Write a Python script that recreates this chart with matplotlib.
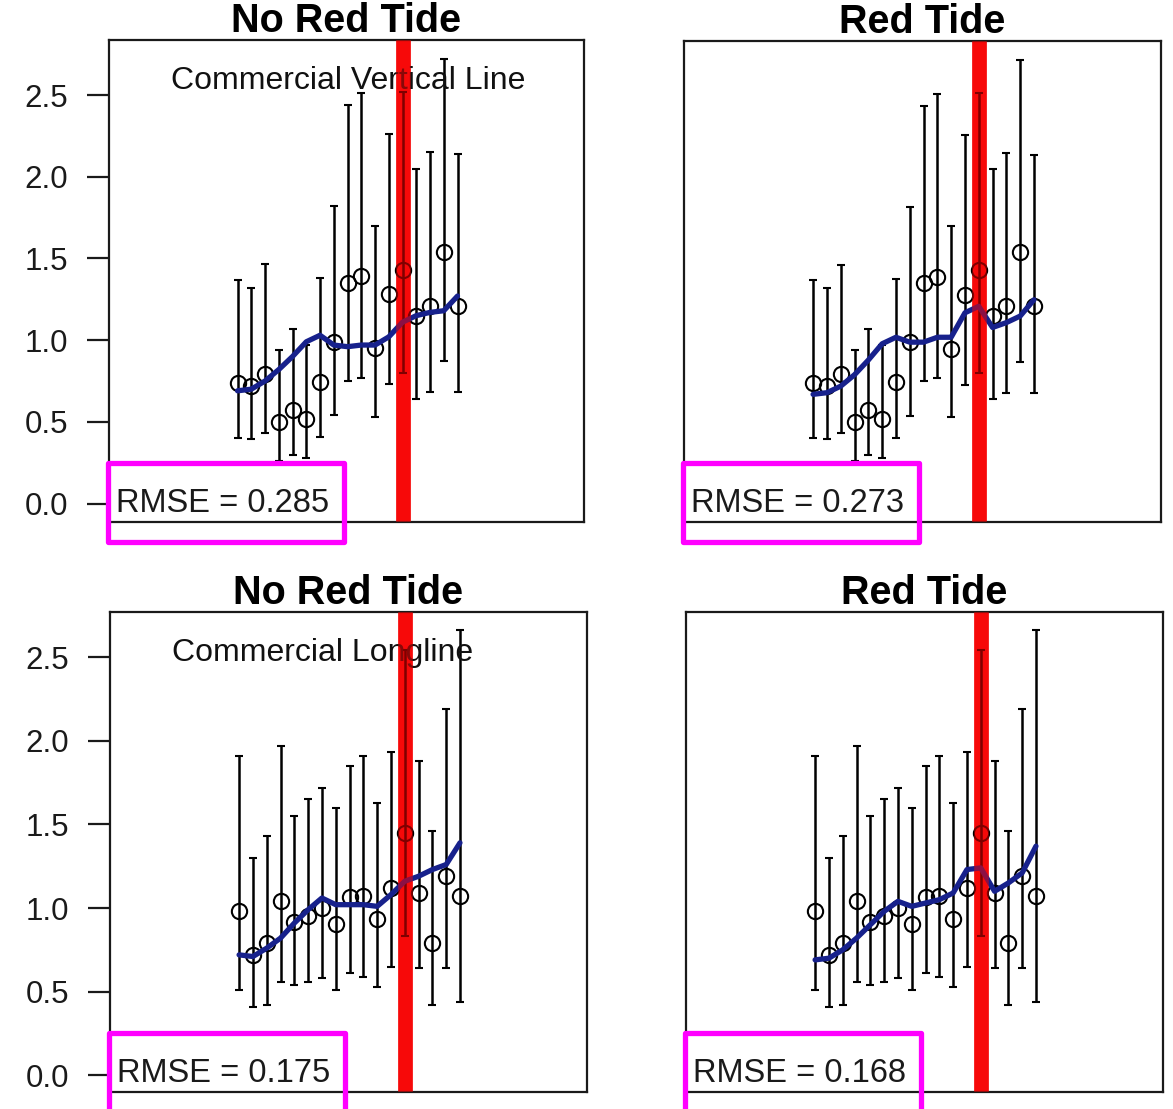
import numpy as np
import matplotlib
matplotlib.use("Agg")
import matplotlib.pyplot as plt
from matplotlib.patches import Rectangle

plt.rcParams['font.family'] = ['Liberation Sans', 'DejaVu Sans']

# ---------------- data ----------------
years = np.arange(1, 18)          # 17 time steps (no x labels shown)
red_tide_year = 13                # position of the red-tide event

titles = ["No Red Tide", "Red Tide", "No Red Tide", "Red Tide"]
gear_labels = ["Commercial Vertical Line", "Commercial Longline"]
rmse_values = [0.285, 0.273, 0.175, 0.168]
ytick_vals = [0.0, 0.5, 1.0, 1.5, 2.0, 2.5]

# Commercial Vertical Line: observed index with bounds
vl_obs = [0.74, 0.72, 0.795, 0.50, 0.574, 0.52, 0.744, 0.99, 1.35, 1.39, 0.95, 1.28, 1.43, 1.15, 1.21, 1.54, 1.21]
vl_hi  = [1.37, 1.32, 1.466, 0.94, 1.07, 0.97, 1.38, 1.82, 2.44, 2.51, 1.70, 2.26, 2.52, 2.05, 2.15, 2.72, 2.14]
vl_lo  = [0.40, 0.395, 0.43, 0.26, 0.30, 0.28, 0.405, 0.54, 0.75, 0.77, 0.53, 0.73, 0.80, 0.64, 0.68, 0.87, 0.68]
vl_fit_no = [0.69, 0.70, 0.75, 0.82, 0.90, 0.99, 1.03, 0.97, 0.96, 0.97, 0.97, 1.02, 1.11, 1.15, 1.17, 1.18, 1.27]
vl_fit_rt = [0.67, 0.68, 0.72, 0.79, 0.88, 0.98, 1.02, 0.99, 0.99, 1.02, 1.02, 1.17, 1.21, 1.08, 1.11, 1.15, 1.25]

# Commercial Longline
ll_obs = [0.985, 0.72, 0.79, 1.04, 0.915, 0.955, 1.00, 0.905, 1.066, 1.07, 0.935, 1.12, 1.45, 1.09, 0.79, 1.19, 1.07]
ll_hi  = [1.91, 1.30, 1.43, 1.97, 1.55, 1.65, 1.72, 1.60, 1.85, 1.91, 1.63, 1.93, 2.54, 1.88, 1.46, 2.19, 2.66]
ll_lo  = [0.51, 0.41, 0.42, 0.56, 0.54, 0.56, 0.58, 0.51, 0.61, 0.59, 0.53, 0.65, 0.83, 0.64, 0.42, 0.64, 0.44]
ll_fit_no = [0.72, 0.71, 0.76, 0.82, 0.91, 0.99, 1.06, 1.02, 1.02, 1.02, 1.01, 1.08, 1.16, 1.19, 1.23, 1.26, 1.39]
ll_fit_rt = [0.69, 0.70, 0.75, 0.82, 0.90, 0.98, 1.04, 1.01, 1.03, 1.05, 1.09, 1.23, 1.24, 1.10, 1.15, 1.21, 1.37]

panels = [
    (vl_obs, vl_lo, vl_hi, vl_fit_no),
    (vl_obs, vl_lo, vl_hi, vl_fit_rt),
    (ll_obs, ll_lo, ll_hi, ll_fit_no),
    (ll_obs, ll_lo, ll_hi, ll_fit_rt),
]

# ---------------- layout ----------------
W, H = 1173, 1109
fig = plt.figure(figsize=(W / 100, H / 100), dpi=100)

def px_axes(x0, y0, x1, y1):
    return [x0 / W, 1 - y1 / H, (x1 - x0) / W, (y1 - y0) / H]

rects = [px_axes(109, 40, 584, 522), px_axes(684, 41, 1161, 522),
         px_axes(110, 612, 587, 1092), px_axes(686, 612, 1163, 1092)]
ylims = [(-0.113, 2.837), (-0.113, 2.837), (-0.10, 2.77), (-0.10, 2.77)]

for i, (obs, lo, hi, fit) in enumerate(panels):
    ax = fig.add_axes(rects[i])
    obs = np.array(obs); lo = np.array(lo); hi = np.array(hi)
    yerr = np.vstack([obs - lo, hi - obs])
    ax.errorbar(years, obs, yerr=yerr, fmt='o', mfc='none', mec='black',
                ms=11, mew=1.5, ecolor='black', elinewidth=1.8,
                capsize=3, capthick=1.8, zorder=2)
    ax.plot(years, fit, color='#17218c', lw=3.8, zorder=3,
            solid_capstyle='round', solid_joinstyle='round')
    # red-tide marker: opaque band under, translucent band over
    ax.axvline(red_tide_year, color='#f01414', lw=10.5, zorder=1)
    ax.axvline(red_tide_year, color='#ff0000', lw=10.5, alpha=0.5, zorder=4)

    ax.set_xlim(-8.35, 26.2)
    ax.set_ylim(*ylims[i])
    ax.set_xticks([])
    for s in ax.spines.values():
        s.set_linewidth(1.6)
        s.set_color('#1a1a1a')
    if i % 2 == 0:
        ax.set_yticks(ytick_vals)
        ax.set_yticklabels([f"{v:.1f}" for v in ytick_vals])
        ax.tick_params(axis='y', length=15.5, width=1.6, pad=14,
                       labelsize=22.5, colors='#1a1a1a')
        ax.text(0.130, 0.915, gear_labels[i // 2], transform=ax.transAxes,
                fontsize=23, ha='left', va='center', color='#111111')
    else:
        ax.set_yticks([])
    ax.set_title(titles[i], fontsize=28.5, fontweight='bold', pad=2)

    ax_h = rects[i][3] * H
    ax_w = rects[i][2] * W
    box = Rectangle((-1 / ax_w, -20 / ax_h), 236 / ax_w, 79 / ax_h,
                    transform=ax.transAxes, fill=False, edgecolor='#ff00ff',
                    lw=3.8, clip_on=False, zorder=5, joinstyle='round')
    ax.add_patch(box)
    ax.text(7 / ax_w, 10 / ax_h, f"RMSE = {rmse_values[i]:.3f}",
            transform=ax.transAxes, fontsize=23.5, ha='left', va='baseline',
            color='#1a1a1a', zorder=6)

fig.savefig("out.png", dpi=100)
